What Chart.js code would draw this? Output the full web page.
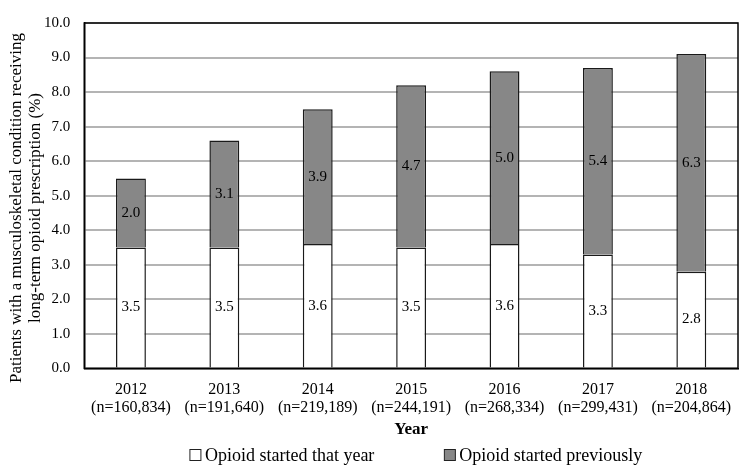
<!DOCTYPE html>
<html>
<head>
<meta charset="utf-8">
<script src="https://cdn.jsdelivr.net/npm/chart.js@4.4.1/dist/chart.umd.min.js"></script>
<style>
  html, body { margin: 0; padding: 0; background: #fff; }
  #wrap { width: 756px; height: 467px; }
</style>
</head>
<body>
<div id="wrap"><canvas id="opioid-chart"></canvas></div>
<script>
const years = ['2012', '2013', '2014', '2015', '2016', '2017', '2018'];
const sampleSizes = ['(n=160,834)', '(n=191,640)', '(n=219,189)', '(n=244,191)', '(n=268,334)', '(n=299,431)', '(n=204,864)'];
const startedThatYear = [3.5, 3.5, 3.6, 3.5, 3.6, 3.3, 2.8];
const startedPreviously = [2.0, 3.1, 3.9, 4.7, 5.0, 5.4, 6.3];
const seriesNames = ['Opioid started that year', 'Opioid started previously'];
const yTitle = ['Patients with a musculoskeletal condition receiving', 'long-term opioid prescription (%)'];

const serif = '"Liberation Serif", "Times New Roman", serif';

// value text in the middle of every bar segment
const barLabels = {
    id: 'barLabels',
    afterDatasetsDraw(chart) {
        const ctx = chart.ctx;
        ctx.save();
        ctx.font = '15px ' + serif;
        ctx.fillStyle = '#000';
        ctx.textAlign = 'center';
        ctx.textBaseline = 'middle';
        chart.data.datasets.forEach((ds, i) => {
            chart.getDatasetMeta(i).data.forEach((bar, j) => {
                const p = bar.getProps(['x', 'y', 'base'], true);
                ctx.fillText(ds.data[j].toFixed(1), p.x, (p.y + p.base) / 2);
            });
        });
        ctx.restore();
    }
};

// black box round the plot area
const plotFrame = {
    id: 'plotFrame',
    afterDraw(chart) {
        const a = chart.chartArea;
        const ctx = chart.ctx;
        ctx.save();
        ctx.strokeStyle = '#000';
        ctx.lineWidth = 1.5;
        ctx.strokeRect(a.left, a.top, a.right - a.left, a.bottom - a.top);
        ctx.restore();
    }
};

// rotated y title, sitting a bit below the middle like the original
const yAxisTitle = {
    id: 'yAxisTitle',
    afterDraw(chart) {
        const ctx = chart.ctx;
        ctx.save();
        ctx.translate(0, 208);
        ctx.rotate(-Math.PI / 2);
        ctx.font = '17px ' + serif;
        ctx.fillStyle = '#000';
        ctx.textAlign = 'center';
        ctx.textBaseline = 'middle';
        ctx.fillText(yTitle[0], 0, 17);
        ctx.fillText(yTitle[1], 0, 36);
        ctx.restore();
    }
};

// legend under the axis title, spread out like the original
const bottomLegend = {
    id: 'bottomLegend',
    afterDraw(chart) {
        const ctx = chart.ctx;
        const y = 455;
        const box = 11;
        const gap = 4;
        const spacing = 70;
        ctx.save();
        ctx.font = '18px ' + serif;
        ctx.textBaseline = 'middle';
        ctx.textAlign = 'left';
        const widths = chart.data.datasets.map(ds => box + gap + ctx.measureText(ds.label).width);
        const total = widths.reduce((s, w) => s + w, 0) + spacing * (widths.length - 1);
        const a = chart.chartArea;
        let x = (a.left + a.right) / 2 + 5 - total / 2;
        chart.data.datasets.forEach((ds, i) => {
            ctx.fillStyle = ds.backgroundColor;
            ctx.fillRect(x, y - box / 2, box, box);
            ctx.strokeStyle = '#222';
            ctx.lineWidth = 1;
            ctx.strokeRect(x, y - box / 2, box, box);
            ctx.fillStyle = '#000';
            ctx.fillText(ds.label, x + box + gap, y + 1);
            x += widths[i] + spacing;
        });
        ctx.restore();
    }
};

new Chart(document.getElementById('opioid-chart'), {
    type: 'bar',
    data: {
        labels: years.map((y, i) => [y, sampleSizes[i]]),
        datasets: [
            {
                label: seriesNames[0],
                data: startedThatYear,
                backgroundColor: '#ffffff',
                borderColor: '#1a1a1a',
                borderWidth: 1.5,
                borderSkipped: 'bottom'
            },
            {
                label: seriesNames[1],
                data: startedPreviously,
                backgroundColor: '#878787',
                borderColor: '#1a1a1a',
                borderWidth: 1.5,
                borderSkipped: 'bottom'
            }
        ]
    },
    options: {
        responsive: true,
        maintainAspectRatio: false,
        animation: false,
        layout: {
            padding: { left: 30, right: 18, top: 12, bottom: 27 }
        },
        datasets: {
            bar: { categoryPercentage: 1.0, barPercentage: 0.32 }
        },
        plugins: {
            legend: { display: false },
            tooltip: { enabled: false }
        },
        scales: {
            x: {
                stacked: true,
                grid: { display: false, drawTicks: false },
                border: { display: true, color: '#000', width: 1.5 },
                ticks: {
                    color: '#000',
                    padding: 13,
                    maxRotation: 0,
                    autoSkip: false,
                    font: { family: serif, size: 16, lineHeight: 1.1 }
                },
                title: {
                    display: true,
                    text: 'Year',
                    color: '#000',
                    padding: { top: -10, bottom: 0 },
                    font: { family: serif, size: 17, weight: 'bold' }
                }
            },
            y: {
                stacked: true,
                min: 0,
                max: 10,
                grid: { color: '#b4b4b4', lineWidth: 2, drawTicks: false },
                border: { display: true, color: '#000', width: 1.5 },
                ticks: {
                    stepSize: 1,
                    color: '#000',
                    padding: 14,
                    font: { family: serif, size: 15 },
                    callback: v => v.toFixed(1)
                }
            }
        }
    },
    plugins: [barLabels, plotFrame, yAxisTitle, bottomLegend]
});
</script>
</body>
</html>
